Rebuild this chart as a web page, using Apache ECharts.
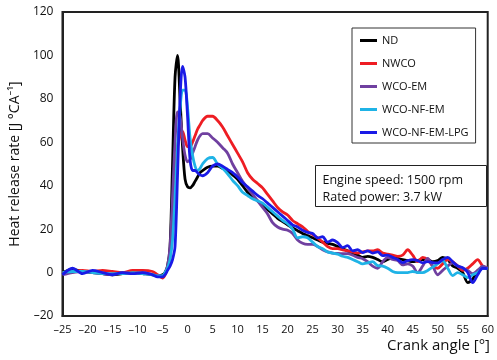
<!DOCTYPE html>
<html>
<head>
<meta charset="utf-8">
<script src="https://cdn.jsdelivr.net/npm/echarts@6/dist/echarts.min.js"></script>
<style>
  html, body { margin: 0; padding: 0; background: #fff; }
  #chart { width: 497px; height: 360px; }
</style>
</head>
<body>
<div id="chart"></div>
<script>
// crank angle points [deg]
var angles = [-25, -23, -21, -19, -17, -15, -13, -11, -9, -7, -6, -5,
  -4.5, -4, -3.5, -3, -2.5, -2, -1.5, -1, -0.5, 0, 0.5, 1, 1.5, 2, 2.5,
  3, 4, 5, 6, 7, 8, 9, 10, 11, 12, 13, 14, 15, 16, 17, 18, 19, 20,
  21, 22, 23, 24, 25, 26, 27, 28, 29, 30, 31, 32, 33, 34, 35, 36, 37, 38, 39, 40,
  41, 42, 43, 44, 45, 46, 47, 48, 49, 50, 51, 52, 53, 54, 55, 56, 57, 58, 59, 60];

var seriesNames = ['ND', 'NWCO', 'WCO-EM', 'WCO-NF-EM', 'WCO-NF-EM-LPG'];

// heat release rate [J/°CA]
var ndValues = [0, 1.5, 0.5, 0, -0.5, -1, -0.5, 0, -0.5, -1, -1.5, -1,
  0, 3, 12, 50, 90, 100, 80, 58, 43, 39.5, 39, 40, 42, 44, 46,
  47, 48.5, 49, 49, 48, 47, 45, 43, 40, 37, 35, 33, 31, 29, 27, 25, 23.5, 22,
  20.5, 19.3, 18, 17, 16, 15, 14, 13.5, 13, 12, 11, 10, 9, 8, 7, 7.5, 7, 6, 5, 6,
  7, 6.5, 6, 5.5, 5, 5.5, 6, 6, 5, 5.5, 7, 6, 3, 2, 0, -4.6, -3, 1, 2, 1.8];

var nwcoValues = [0, 0.5, 1, 0.5, 1, 0.5, 0, 1, 1, 0.5, -1, -2.5,
  -1, 2, 8, 25, 45, 58, 63, 65, 61, 58, 58, 60, 63, 66, 68,
  70, 72, 72, 70, 67, 63, 59, 55, 51, 46, 43, 41, 39, 36, 33, 30, 28, 26.5,
  24, 22.5, 21, 19, 17.5, 16, 14, 12, 11, 11, 10.5, 10, 9.5, 9, 9.5, 10, 10, 10.5, 9, 8.5,
  8, 7.5, 8, 10.5, 8, 5, 7, 6, 3, 2, 4, 6, 5, 3, 1, 2, 4, 6, 3, 2];

var wcoEmValues = [-1, 0, 0.5, 0, -0.5, -1, 0, -0.5, 0, -1, -1.5, -1.5,
  0, 3, 12, 35, 60, 74, 72, 62, 54, 51, 52, 55, 58, 61, 63,
  64, 64, 62, 60, 57.5, 55, 50, 46, 42, 39, 36, 33, 30, 27, 23, 21, 20, 19.5,
  18, 15, 13.5, 13, 13, 12, 10.5, 9.5, 9, 8.8, 8.7, 8.7, 8, 7, 6.4, 5, 3, 2, 5, 7,
  6, 5.5, 3.5, 4, 3, 0, 3, 6.5, 3, -1, 1, 3, 4.5, 3, 2, 1, -0.5, 1, 3, 2];

var wcoNfEmValues = [0, 0.5, 0.5, 0, -0.5, -0.5, -0.5, 0, -0.5, -1, -1.5, -1.5,
  0, 2, 6, 15, 35, 58, 75, 84, 84, 76, 62, 54, 49, 47, 48,
  50, 52.5, 53, 50, 48, 45.5, 42.5, 40, 37, 35.5, 34, 33, 32, 30, 28, 26, 24, 22.5,
  20, 16, 16.5, 16, 14, 12, 11, 9.5, 9, 8.5, 7.5, 7, 6, 5, 4, 4.5, 5, 3.2, 3, 2,
  0.5, 0, 0, 0, 0.5, 0, 0, 1, 2.5, 4, 5.5, 2, -1.4, 0, -1, -2.3, -1, 0, 2, 1.8];

var wcoNfEmLpgValues = [-1, 2, -0.5, 1, 0, -1, 0, -0.5, 0, -1, -2, -2,
  -1, 1, 3, 6, 12, 45, 80, 95, 90, 72, 52, 47, 47, 46, 45,
  44.6, 46, 49, 50, 49, 47.5, 46, 44, 41.5, 39.5, 37.5, 35.5, 34, 32, 30, 28, 26, 24,
  22, 21, 19.5, 18.5, 18, 16, 16.5, 14, 15, 13.8, 11.5, 12.4, 10, 10.5, 9.2, 10, 9, 9.5, 7.8, 8,
  7, 6, 4.6, 5.5, 6, 5.5, 4.5, 5, 4.6, 4.5, 6, 7, 5, 3, 2.3, 0, -4.6, -1, 2, 1.8];

var seriesColors = ['#000000', '#ee1d23', '#7040a0', '#1fb3e6', '#1a1ae6'];
var yTicks = [-20, 0, 20, 40, 60, 80, 100, 120];
var xTicks = [-25, 60, 5]; // min, max, step

var fontFamily = '"Open Sans", "Noto Sans", sans-serif';

function pairs(vals) {
  return angles.map(function (a, i) { return [a, vals[i]]; });
}

var allValues = [ndValues, nwcoValues, wcoEmValues, wcoNfEmValues, wcoNfEmLpgValues];

var chart = echarts.init(document.getElementById('chart'));
chart.setOption({
  animation: false,
  textStyle: { fontFamily: fontFamily },
  grid: {
    left: 61, right: 5, top: 12, bottom: 44,
    show: true, borderColor: '#222', borderWidth: 2
  },
  legend: {
    orient: 'vertical',
    left: 352, top: 28,
    padding: [6, 7, 4, 8],
    itemGap: 10,
    itemWidth: 17, itemHeight: 3,
    borderColor: '#333', borderWidth: 1,
    icon: 'rect',
    textStyle: { fontSize: 11, color: '#111', lineHeight: 13, fontFamily: fontFamily },
    data: seriesNames
  },
  xAxis: {
    type: 'value',
    min: xTicks[0], max: xTicks[1], interval: xTicks[2],
    axisLine: { onZero: false, lineStyle: { color: '#222', width: 2 } },
    axisTick: { show: false },
    splitLine: { show: false },
    axisLabel: {
      color: '#111', fontSize: 11, margin: 8,
      formatter: function (v) { return String(v).replace('-', '\u2013'); }
    }
  },
  yAxis: {
    type: 'value',
    min: yTicks[0], max: yTicks[yTicks.length - 1], interval: 20,
    name: 'Heat release rate [J \u00b0CA\u207b\u00b9]',
    nameLocation: 'middle',
    nameGap: 39,
    nameTextStyle: { fontSize: 14, color: '#111' },
    axisLine: { onZero: false, lineStyle: { color: '#222', width: 2 } },
    axisTick: { show: false },
    splitLine: { show: false },
    axisLabel: {
      color: '#111', fontSize: 12, margin: 9,
      formatter: function (v) { return String(v).replace('-', '\u2013'); }
    }
  },
  graphic: [
    {
      type: 'group', left: 315, top: 165,
      children: [
        { type: 'rect', shape: { x: 0, y: 0, width: 171, height: 41 },
          style: { fill: '#fff', stroke: '#222', lineWidth: 1 } },
        { type: 'text', x: 7, y: 6,
          style: { text: 'Engine speed: 1500 rpm\nRated power: 3.7 kW', fontSize: 12.5,
                   lineHeight: 17, fill: '#111', fontFamily: fontFamily } }
      ]
    },
    {
      type: 'text', right: 7, top: 338,
      style: { text: 'Crank angle [\u00b0]', fontSize: 15, fill: '#111', fontFamily: fontFamily }
    }
  ],
  series: seriesNames.map(function (name, i) {
    return {
      name: name,
      type: 'line',
      data: pairs(allValues[i]),
      symbol: 'none',
      smooth: 0.3,
      color: seriesColors[i],
      lineStyle: { width: 2.8, color: seriesColors[i] },
      z: 2 + i
    };
  })
});
</script>
</body>
</html>
